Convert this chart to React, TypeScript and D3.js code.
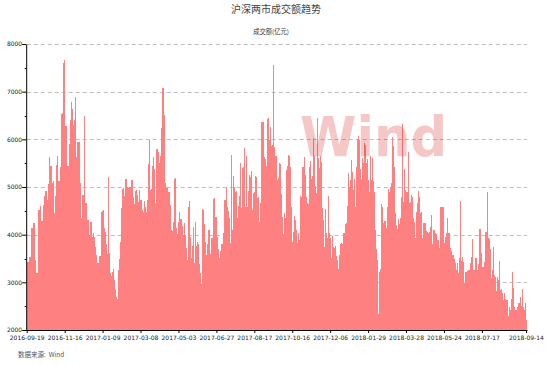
import React, { useEffect, useRef } from "react";
import * as d3 from "d3";

// daily turnover, 100m yuan, split by period
const turnover2016Q4 = [
  3430, 3430, 3540, 3540, 4130, 4130, 4240, 4240, 3470, 3200,
  3200, 4510, 4510, 4600, 4290, 4290, 4620, 4810, 4920, 4920,
  4720, 5060, 5620, 5440, 5450, 5080, 5120, 4450, 4810, 5460,
  5650, 5120, 5420, 6530, 6550, 7610, 7660, 6280, 6280, 5440,
  5440, 5900, 6400, 6790, 6630, 6300, 6400, 6880, 5620, 5950,
  5950, 5950, 5080, 4340, 4830, 4830, 6490, 4670, 4660, 4310,
  4310, 3990, 4270, 4270, 3960, 4030, 3960, 3750, 3570, 3400,
  3410, 3550, 4480, 4490, 4510, 4140, 4060, 3800, 3600, 5200,
  3620, 3190, 3130, 3220, 3270, 3050, 2850, 2700, 2660, 3260,
  3480, 3850, 4550, 4950, 4970, 4810, 5160, 5160, 4990, 4970,
  5010, 4990, 5150, 5150, 4800, 4650, 4920, 4940, 4830, 4690,
  4940, 4730, 4510, 4480, 4710, 4590, 4480, 4730, 5480, 5990,
  4940, 4950, 5440,
];
const turnover2017H1 = [
  5620, 5370, 4660, 5800, 5800, 5740, 5510, 5650, 6230, 7070,
  7070, 6510, 5080, 4990, 4970, 4890, 4890, 4620, 4100, 4080,
  4270, 5160, 5180, 4130, 4010, 4270, 4480, 4320, 4180, 3990,
  4250, 3990, 3710, 3470, 4590, 4710, 3960, 3510, 3760, 4170,
  3410, 4260, 3760, 3850, 3800, 3380, 3190, 2970, 4540, 4510,
  4220, 3850, 3570, 3800, 4100, 4100, 3600, 3940, 3940, 4740,
  4760, 4380, 4380, 3960, 3690, 3510, 3660, 3800, 4040, 4730,
  4720, 4990, 4570, 4500, 4360, 3830, 5670, 4100, 5240, 5010,
  4890, 4920, 4340, 4610, 4810, 5510, 4560, 5390, 5410, 5810,
  4590, 5650, 4590, 4920, 5250, 5220, 5340, 4510, 4870, 4900,
  5230, 5220, 4760, 4800, 4270, 4660, 6370, 6370, 5620, 5580,
  5440, 6420, 6440, 5990, 6250, 5860, 5880, 7560, 5830, 5640,
  5640,
];
const turnover2017H2 = [
  5150, 5180, 5510, 5480, 4850, 4380, 4010, 4450, 4340, 5360,
  5440, 5670, 5640, 5410, 4570, 3850, 4060, 4390, 4310, 4100,
  3830, 4040, 3890, 4810, 4790, 5430, 5620, 5250, 4800, 4670,
  4650, 5430, 5550, 5160, 5230, 6020, 5640, 5020, 4880, 6440,
  5600, 5390, 5640, 5530, 4550, 4310, 3750, 4530, 4030, 3920,
  4810, 4030, 3920, 3510, 3970, 3750, 3710, 3760, 3550, 3470,
  3290, 3570, 3800, 3830, 3810, 4040, 4220, 4250, 4600, 5300,
  5010, 5150, 5570, 5320, 4940, 5160, 4590, 5430, 6000, 6070,
  5990, 5370, 5160, 5600, 5510, 5920, 5880, 5510, 5580, 5150,
  4900, 5640, 5150, 5600, 5120, 4900, 4100, 3690, 3470, 2340,
  3220, 3290, 4650, 4590, 4250, 4290, 4130, 4590, 4950, 4900,
  5010, 5080, 6040, 5860, 5430, 4450, 4200, 4110, 4320, 4220,
  4340,
];
const turnover2018 = [
  4800, 6320, 4690, 5370, 4940, 4900, 4900, 5740, 4670, 4690,
  4830, 4800, 4340, 4270, 3940, 4480, 4670, 4920, 4800, 4450,
  4480, 3920, 4240, 4240, 4080, 4060, 4030, 4060, 4170, 4410,
  3800, 4100, 4100, 4040, 4010, 3890, 3890, 3730, 4590, 4590,
  4590, 4570, 3830, 3960, 4040, 4340, 4040, 4040, 3710, 3660,
  3570, 3570, 3480, 3410, 3260, 3400, 3190, 3520, 4710, 3450,
  3540, 3430, 2980, 3220, 3230, 3260, 3260, 3410, 3540, 3900,
  3260, 3260, 3520, 3520, 3260, 3390, 4110, 4110, 3620, 3330,
  3330, 3430, 4060, 4060, 4900, 3940, 3900, 3690, 3100, 3260,
  3750, 3150, 3120, 2820, 3120, 3050, 3450, 2840, 2870, 2770,
  2630, 2770, 2640, 2630, 2290, 2490, 2410, 2640, 3220, 2890,
  2490, 2430, 2410, 2480, 2560, 2560, 2700, 2500, 2870, 2490,
  2410, 2560, 2200,
];

const tickLabels = [
  "2016-09-19", "2016-11-16", "2017-01-09", "2017-03-08", "2017-05-03",
  "2017-06-27", "2017-08-17", "2017-10-16", "2017-12-06", "2018-01-29",
  "2018-03-28", "2018-05-24", "2018-07-17", "2018-09-14",
];
// trading-day position of each tick label
const tickDays = [0, 37, 74, 111, 148, 185, 222, 259, 296, 333, 370, 407, 444, 487];
const yTicks = [2000, 3000, 4000, 5000, 6000, 7000, 8000];

const values = [...turnover2016Q4, ...turnover2017H1, ...turnover2017H2, ...turnover2018];

export default function App() {
  const chartRef = useRef<HTMLDivElement>(null);

  useEffect(() => {
    drawChart();
  }, []);

  function drawChart() {
    const container = chartRef.current;
    if (!container) return;
    container.innerHTML = "";

    const width = 553;
    const height = 365;
    const margin = { top: 44, right: 26, bottom: 35, left: 26.7 };
    const font = "'DejaVu Sans', sans-serif";
    const cjk = "'Noto Sans CJK SC', sans-serif";

    const svg = d3
      .select(container)
      .append("svg")
      .attr("width", width)
      .attr("height", height)
      .style("position", "absolute")
      .style("left", "0px")
      .style("top", "0px")
      .style("background", "#fff");

    const xScale = d3
      .scaleBand<number>()
      .domain(d3.range(values.length))
      .range([margin.left, width - margin.right])
      .padding(0);

    const yScale = d3
      .scaleLinear()
      .domain([2000, 8000])
      .range([height - margin.bottom, margin.top]);

    // dashed gridlines, behind the bars
    svg
      .append("g")
      .selectAll("line")
      .data(yTicks.slice(1))
      .enter()
      .append("line")
      .attr("x1", margin.left)
      .attr("x2", width - margin.right)
      .attr("y1", (d) => Math.round(yScale(d)) + 0.5)
      .attr("y2", (d) => Math.round(yScale(d)) + 0.5)
      .attr("stroke", "#bdbdbd")
      .attr("stroke-width", 1)
      .attr("stroke-dasharray", "4 3");

    // bars snap to pixels so no seams show between neighbours
    svg
      .append("g")
      .attr("shape-rendering", "crispEdges")
      .selectAll("rect")
      .data(values)
      .enter()
      .append("rect")
      .attr("x", (d, i) => xScale(i)!)
      .attr("y", (d) => yScale(d))
      .attr("width", xScale.bandwidth())
      .attr("height", (d) => yScale(2000) - yScale(d))
      .attr("fill", "#ff8080");

    // watermark over the bars
    svg
      .append("text")
      .attr("x", 300)
      .attr("y", 156)
      .attr("textLength", 147)
      .attr("lengthAdjust", "spacingAndGlyphs")
      .style("font", `bold 56px ${font}`)
      .attr("fill", "rgba(215,40,40,0.26)")
      .text("Wind");

    const xAxis = d3
      .axisBottom(xScale)
      .tickValues(tickDays)
      .tickFormat((d) => tickLabels[tickDays.indexOf(d as number)])
      .tickSize(3)
      .tickSizeOuter(0);

    svg
      .append("g")
      .attr("transform", `translate(0, ${yScale(2000)})`)
      .call(xAxis)
      .call((g) => g.select(".domain").attr("stroke", "#000").attr("d", `M${margin.left - 0.5},0.5H${width - margin.right + 0.5}`))
      .call((g) => g.selectAll("line").attr("stroke", "#000"))
      .call((g) =>
        g.selectAll("text").attr("y", 6).style("font", `6px ${font}`).attr("fill", "#222")
      );

    const yAxis = d3
      .axisLeft(yScale)
      .tickValues(yTicks)
      .tickFormat(d3.format("d"))
      .tickSize(4)
      .tickSizeOuter(0);

    svg
      .append("g")
      .attr("transform", `translate(${margin.left - 0.5}, 0)`)
      .call(yAxis)
      .call((g) => g.select(".domain").attr("stroke", "#000"))
      .call((g) => g.selectAll("line").attr("stroke", "#000"))
      .call((g) =>
        g.selectAll("text").attr("x", -4).style("font", `6px ${font}`).attr("fill", "#222")
      );

    // minor ticks every 500
    svg
      .append("g")
      .selectAll("line")
      .data(d3.range(2500, 8000, 1000))
      .enter()
      .append("line")
      .attr("x1", margin.left - 2)
      .attr("x2", margin.left - 0.5)
      .attr("y1", (d) => Math.round(yScale(d)) + 0.5)
      .attr("y2", (d) => Math.round(yScale(d)) + 0.5)
      .attr("stroke", "#000");

    svg
      .append("text")
      .attr("x", 276)
      .attr("y", 13)
      .attr("text-anchor", "middle")
      .style("font", `10px ${cjk}`)
      .attr("fill", "#444")
      .text("沪深两市成交额趋势");

    svg
      .append("text")
      .attr("x", 271)
      .attr("y", 34)
      .attr("text-anchor", "middle")
      .style("font", `6.3px ${cjk}`)
      .attr("fill", "#333")
      .text("成交额(亿元)");

    svg
      .append("text")
      .attr("x", 18)
      .attr("y", 357)
      .style("font", `6.5px ${cjk}`)
      .attr("fill", "#555")
      .attr("xml:space", "preserve")
      .text("数据来源:  Wind");
  }

  return <div ref={chartRef}></div>;
}
